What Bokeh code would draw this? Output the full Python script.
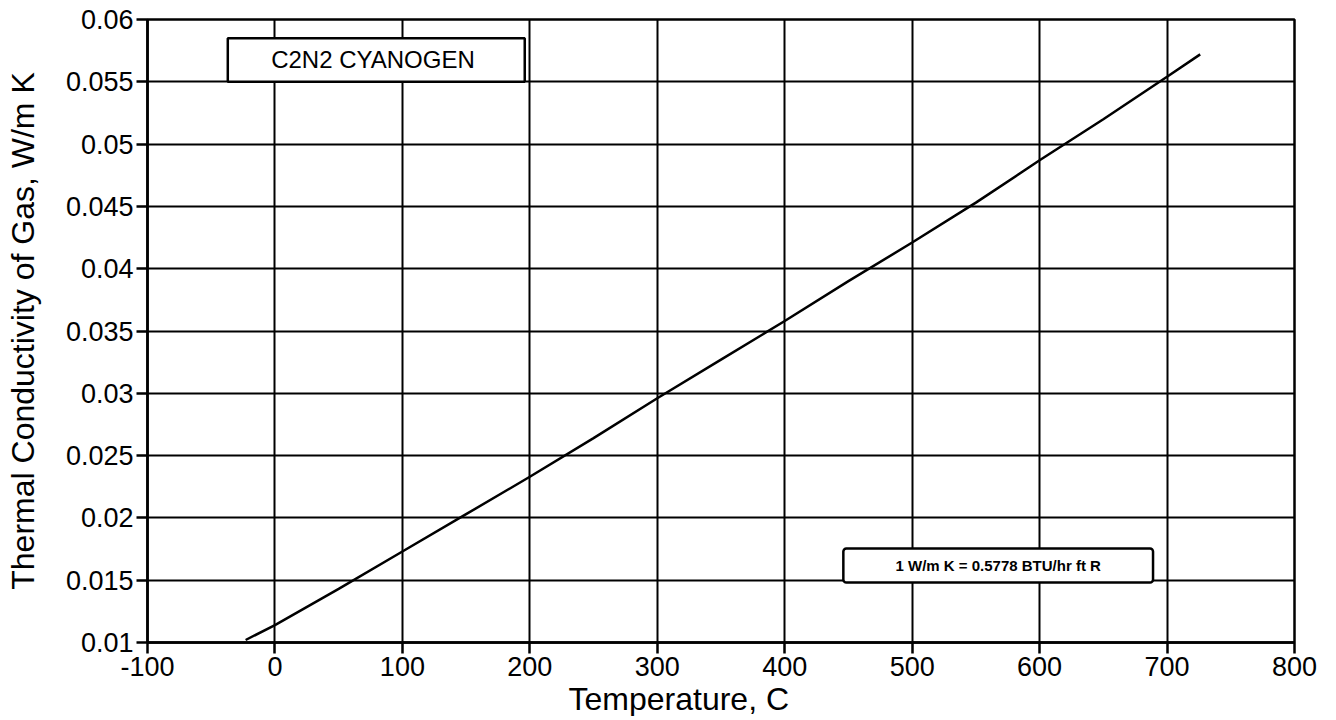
from bokeh.plotting import figure
from bokeh.models import FixedTicker, BoxAnnotation, Label, Title
from bokeh.embed import file_html
from bokeh.resources import INLINE

# data
temperature_c = [-23, 0, 50, 100, 150, 200, 250, 300, 350, 400, 450, 500, 550, 600, 650, 700, 726]
conductivity = [0.0102, 0.0114, 0.0143, 0.0173, 0.0203, 0.0233, 0.0264, 0.0296, 0.0327,
                0.0358, 0.0390, 0.0421, 0.0453, 0.0487, 0.0520, 0.0554, 0.0572]

x_ticks = [-100, 0, 100, 200, 300, 400, 500, 600, 700, 800]
y_ticks = [0.01, 0.015, 0.02, 0.025, 0.03, 0.035, 0.04, 0.045, 0.05, 0.055, 0.06]
y_tick_labels = ["0.01", "0.015", "0.02", "0.025", "0.03", "0.035", "0.04", "0.045", "0.05", "0.055", "0.06"]

x_title = "Temperature, C"
y_title = "Thermal Conductivity of Gas, W/m K"
title_text = "C2N2  CYANOGEN"
note_text = "1 W/m K = 0.5778 BTU/hr ft R"

FONT = "Liberation Sans"

p = figure(frame_width=1147, frame_height=623, output_backend="svg", toolbar_location=None,
           x_range=(-100, 800), y_range=(0.01, 0.06),
           min_border_left=147, min_border_top=19, min_border_right=34, min_border_bottom=72)

p.background_fill_color = "white"
p.border_fill_color = "white"
p.outline_line_color = "black"
p.outline_line_width = 2.5

p.xaxis.ticker = FixedTicker(ticks=x_ticks)
p.yaxis.ticker = FixedTicker(ticks=y_ticks)
p.yaxis.major_label_overrides = {t: s for t, s in zip(y_ticks, y_tick_labels)}
p.xaxis.major_label_overrides = {t: str(t) for t in x_ticks}

for ax in (p.xaxis, p.yaxis):
    ax.axis_line_color = "black"
    ax.axis_line_width = 2.5
    ax.major_tick_line_color = "black"
    ax.major_tick_line_width = 2.5
    ax.major_tick_out = 11
    ax.major_tick_in = 0
    ax.minor_tick_line_color = None
    ax.major_label_text_font = FONT
    ax.major_label_text_font_size = "27px"
    ax.major_label_text_color = "black"
    ax.major_label_standoff = 3
    ax.axis_label_text_font = FONT
    ax.axis_label_text_font_size = "32px"
    ax.axis_label_text_font_style = "normal"
    ax.axis_label_text_color = "black"

p.yaxis.axis_label = y_title
p.yaxis.axis_label_standoff = 22

p.xgrid.ticker = FixedTicker(ticks=x_ticks)
p.ygrid.ticker = FixedTicker(ticks=y_ticks)
p.grid.grid_line_color = "black"
p.grid.grid_line_width = 2
p.grid.grid_line_alpha = 1.0

p.line(temperature_c, conductivity, line_color="black", line_width=2.5)

# x-axis title (set left of centre, as in the original)
p.add_layout(Title(text=x_title, align="left", offset=421, standoff=0,
                   text_font=FONT, text_font_size="32px", text_font_style="normal",
                   text_color="black"), "below")

box1 = BoxAnnotation(left=-37, right=196, bottom=0.0550, top=0.0585,
                     fill_color="white", fill_alpha=1.0, line_color="black", line_alpha=1.0,
                     line_width=2.5)
p.add_layout(box1)
p.add_layout(Label(x=79.5, y=0.05675, text=title_text, text_align="center", text_baseline="middle",
                   text_font=FONT, text_font_size="24px", text_color="black"))

box2 = BoxAnnotation(left=446, right=689, bottom=0.01482, top=0.01754,
                     fill_color="white", fill_alpha=1.0, line_color="black", line_alpha=1.0,
                     line_width=2.5, border_radius=3)
p.add_layout(box2)
p.add_layout(Label(x=567.5, y=0.01618, text=note_text, text_align="center", text_baseline="middle",
                   text_font=FONT, text_font_size="15px", text_font_style="bold", text_color="black"))

open("out.html", "w").write(file_html(p, INLINE))
